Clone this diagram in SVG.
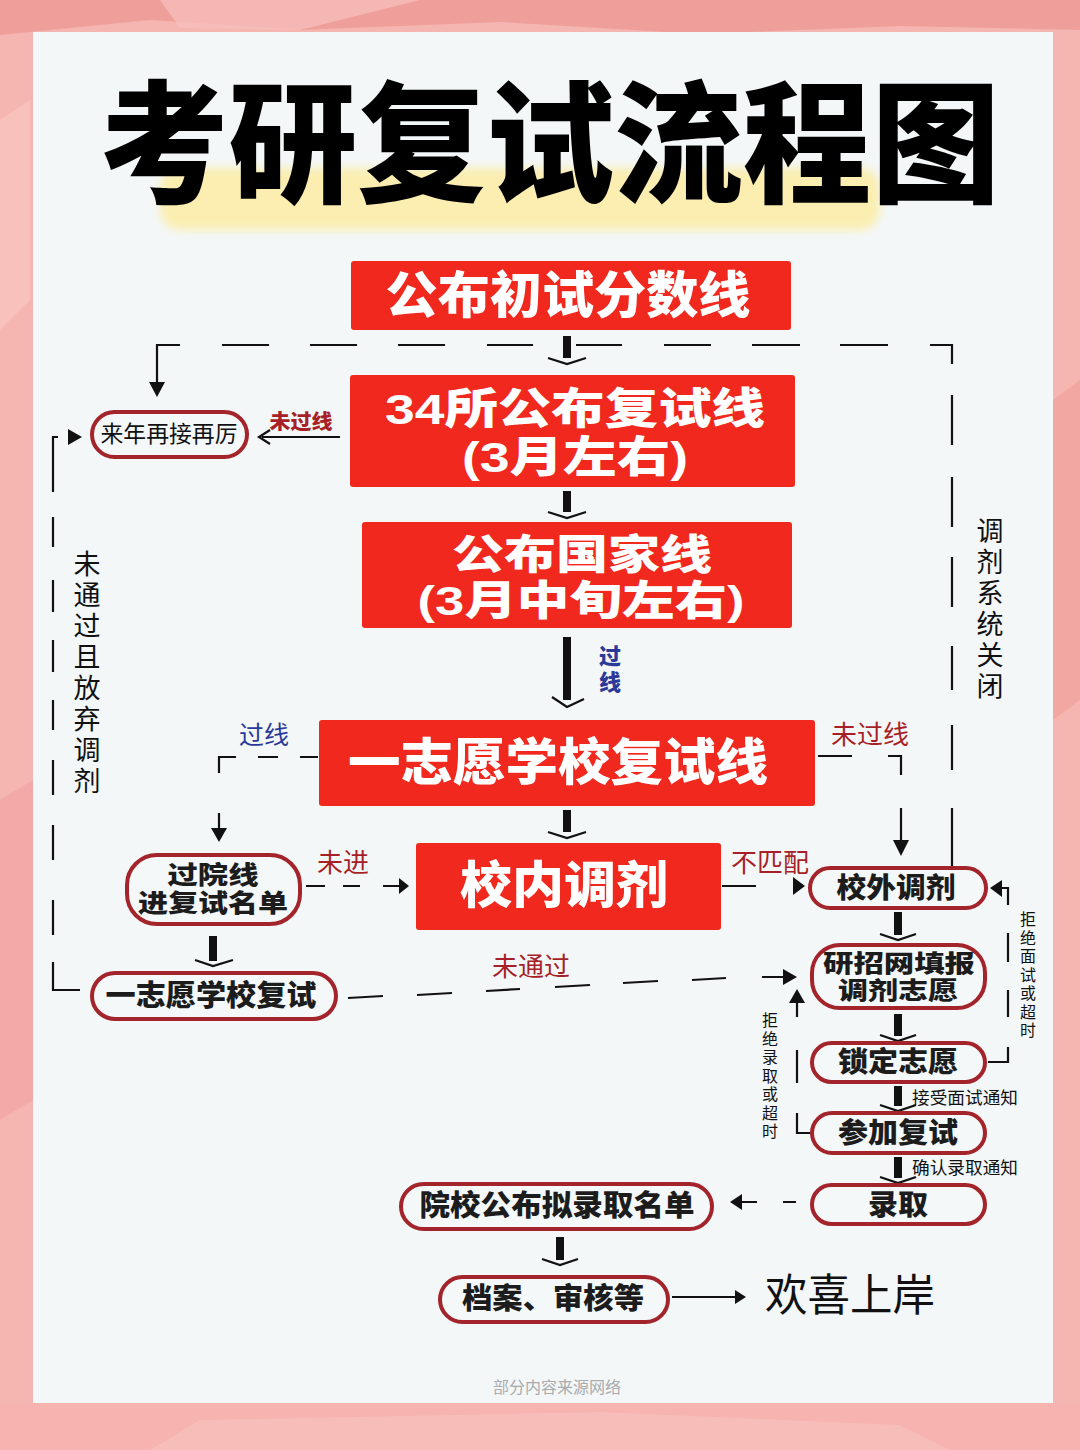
<svg xmlns="http://www.w3.org/2000/svg" width="1080" height="1450" viewBox="0 0 1080 1450">
<defs>
<style>
.hv{font-family:"Liberation Sans","Noto Sans CJK SC",sans-serif;font-weight:900}
.nm{font-family:"Liberation Sans","Noto Sans CJK SC",sans-serif;font-weight:400}
.wt{fill:#ffffff}
.bk{fill:#1c1c1c}
.red{fill:#f0281d}
.node{fill:#f4f8f9;stroke:#a3242a;stroke-width:4}
.lbr{fill:#a71f27}
.lbb{fill:#2b3a98}
.ln{fill:none;stroke:#111;stroke-width:2.2}
.bar{fill:none;stroke:#111;stroke-width:8}
.chev{fill:none;stroke:#111;stroke-width:2.2}
.tri{fill:#111}
</style>
<filter id="soft" x="-10%" y="-50%" width="120%" height="200%"><feGaussianBlur stdDeviation="5"/></filter>
</defs>

<!-- background -->
<rect x="0" y="0" width="1080" height="1450" fill="#f5b5b0"/>
<path d="M0 0 H1080 V30 L900 26 L700 34 L500 22 L300 30 L150 20 L0 35 Z" fill="#ef9f9a"/>
<path d="M160 0 L420 0 L300 30 L180 28 Z" fill="#f8c2be" opacity="0.7"/>
<path d="M0 120 L30 100 L30 300 L0 330 Z" fill="#f9c6c2" opacity="0.7"/>
<path d="M1053 400 L1080 380 L1080 700 L1053 720 Z" fill="#f09f9b" opacity="0.6"/>
<path d="M0 800 L33 780 L33 1100 L0 1120 Z" fill="#f29f9b" opacity="0.5"/>
<path d="M0 1403 H1080 V1450 H0 Z" fill="#f6b3af"/>
<path d="M200 1420 L600 1412 L900 1425 L950 1450 L150 1450 Z" fill="#f9c3bf" opacity="0.6"/>
<rect x="33" y="32" width="1020" height="1371" fill="#f3f7f8"/>

<!-- title -->
<g id="title">
<rect x="160" y="168" width="720" height="62" rx="20" fill="#fbeeb0" filter="url(#soft)"/>
<text class="hv" x="550" y="146" font-size="132" dominant-baseline="central" text-anchor="middle" textLength="900" lengthAdjust="spacingAndGlyphs" fill="#000">考研复试流程图</text>
</g>

<!-- connectors -->
<g id="connectors">
<path class="bar" d="M567 336 V358"/><path class="chev" d="M548 358 L567 364 L586 358"/>
<path class="bar" d="M567 491 V512"/><path class="chev" d="M548 512 L567 518 L586 512"/>
<path class="bar" d="M567 637 V700"/><path class="chev" d="M552 697 L567 707 L584 699"/>
<path class="bar" d="M567 810 V832"/><path class="chev" d="M548 832 L567 838 L586 832"/>
<path class="bar" d="M213 936 V961"/><path class="chev" d="M195 960 L213 966 L233 960"/>
<path class="bar" d="M898 912 V935"/><path class="chev" d="M880 934 L898 940 L916 934"/>
<path class="bar" d="M898 1014 V1036"/><path class="chev" d="M880 1035 L898 1041 L916 1035"/>
<path class="bar" d="M898 1086 V1106"/><path class="chev" d="M880 1105 L898 1111 L916 1105"/>
<path class="bar" d="M898 1157 V1178"/><path class="chev" d="M880 1177 L898 1183 L916 1177"/>
<path class="bar" d="M560 1237 V1260"/><path class="chev" d="M542 1259 L560 1265 L578 1259"/>

<path class="ln" d="M952 866 V808 M952 770 V725 M952 690 V646 M952 607 V557 M952 527 V477 M952 445 V395 M952 364 V345 H930"/>
<path class="ln" d="M888 345 H840 M800 345 H752 M711 345 H664 M622 345 H576 M533 345 H487 M445 345 H398 M357 345 H310 M269 345 H222"/>
<path class="ln" d="M180 345 H157 V384"/>
<polygon class="tri" points="149,382 165,382 157,397"/>

<path class="ln" d="M340 437 H262"/>
<path class="ln" d="M270 430 L259 437 L270 444"/>

<path class="ln" d="M80 990 H53 V962 M53 935 V900 M53 860 V825 M53 795 V760 M53 730 V700 M53 672 V640 M53 612 V580 M53 547 V517 M53 492 V462 V437 H58"/>
<polygon class="tri" points="68,429 68,445 82,437"/>

<path class="ln" d="M318 757 H300 M278 757 H258 M236 757 H219 V773"/>
<path class="ln" d="M219 813 V830"/>
<polygon class="tri" points="211,828 227,828 219,842"/>

<path class="ln" d="M818 756 H852 M888 756 H901 V775"/>
<path class="ln" d="M901 808 V841"/>
<polygon class="tri" points="893,840 909,840 901,856"/>

<path class="ln" d="M306 886 H325 M343 886 H360 M383 886 H401"/>
<polygon class="tri" points="399,878 399,894 409,886"/>

<path class="ln" d="M722 886 H756"/>
<polygon class="tri" points="793,877 793,895 805,886"/>

<path class="ln" d="M348 998 L383 996 M417 995 L452 993 M486 991 L520 989 M555 987 L590 985 M623 983 L658 981 M692 980 L726 978 M762 977 L786 977"/>
<polygon class="tri" points="783,969 783,985 797,977"/>

<path class="ln" d="M812 1133 H797 V1113 M797 1083 V1050"/>
<path class="ln" d="M797 1017 V1000"/>
<polygon class="tri" points="789,1003 805,1003 797,989"/>

<path class="ln" d="M988 1062 H1008 V1047 M1008 1017 V990 M1008 962 V933 M1008 905 V888 H1000"/>
<polygon class="tri" points="1002,880 1002,897 990,888"/>

<path class="ln" d="M796 1202 H783 M757 1202 H740"/>
<polygon class="tri" points="742,1194 742,1210 730,1202"/>

<path class="ln" d="M672 1297 H737"/>
<polygon class="tri" points="735,1290 735,1304 746,1297"/>
</g>

<!-- red boxes -->
<g id="n1"><rect class="red" x="351" y="261" width="440" height="69" rx="3"/>
<text class="hv wt" x="568" y="296" font-size="50" dominant-baseline="central" text-anchor="middle" textLength="365" lengthAdjust="spacingAndGlyphs">公布初试分数线</text></g>

<g id="n2"><rect class="red" x="350" y="375" width="445" height="112" rx="3"/>
<text class="hv wt" x="575" y="409" font-size="43" dominant-baseline="central" text-anchor="middle" textLength="380" lengthAdjust="spacingAndGlyphs">34所公布复试线</text>
<text class="hv wt" x="575" y="457" font-size="43" dominant-baseline="central" text-anchor="middle" textLength="226" lengthAdjust="spacingAndGlyphs">(3月左右)</text></g>

<g id="n3"><rect class="red" x="362" y="522" width="430" height="106" rx="3"/>
<text class="hv wt" x="582" y="555" font-size="41" dominant-baseline="central" text-anchor="middle" textLength="260" lengthAdjust="spacingAndGlyphs">公布国家线</text>
<text class="hv wt" x="581" y="601" font-size="41" dominant-baseline="central" text-anchor="middle" textLength="327" lengthAdjust="spacingAndGlyphs">(3月中旬左右)</text></g>

<g id="n4"><rect class="red" x="319" y="720" width="496" height="86" rx="3"/>
<text class="hv wt" x="558" y="763" font-size="50" dominant-baseline="central" text-anchor="middle" textLength="420" lengthAdjust="spacingAndGlyphs">一志愿学校复试线</text></g>

<g id="n5"><rect class="red" x="416" y="843" width="305" height="87" rx="3"/>
<text class="hv wt" x="564" y="886" font-size="50" dominant-baseline="central" text-anchor="middle" textLength="208" lengthAdjust="spacingAndGlyphs">校内调剂</text></g>

<!-- rounded nodes -->
<g id="n6"><rect class="node" x="92" y="412" width="155" height="45" rx="22.5"/>
<text class="nm" x="169" y="434" font-size="23" dominant-baseline="central" text-anchor="middle" fill="#111" textLength="137" lengthAdjust="spacingAndGlyphs">来年再接再厉</text></g>

<g id="n7"><rect class="node" x="127" y="855" width="173" height="69" rx="30"/>
<text class="hv bk" x="213" y="875" font-size="25" dominant-baseline="central" text-anchor="middle" textLength="91" lengthAdjust="spacingAndGlyphs">过院线</text>
<text class="hv bk" x="213" y="903" font-size="25" dominant-baseline="central" text-anchor="middle" textLength="150" lengthAdjust="spacingAndGlyphs">进复试名单</text></g>

<g id="n8"><rect class="node" x="92" y="973" width="244" height="46" rx="23"/>
<text class="hv bk" x="211" y="996" font-size="29" dominant-baseline="central" text-anchor="middle" textLength="211" lengthAdjust="spacingAndGlyphs">一志愿学校复试</text></g>

<g id="n9"><rect class="node" x="810" y="868" width="176" height="40" rx="20"/>
<text class="hv bk" x="896" y="888" font-size="28" dominant-baseline="central" text-anchor="middle" textLength="119" lengthAdjust="spacingAndGlyphs">校外调剂</text></g>

<g id="n10"><rect class="node" x="812" y="945" width="173" height="63" rx="28"/>
<text class="hv bk" x="899" y="963" font-size="24" dominant-baseline="central" text-anchor="middle" textLength="152" lengthAdjust="spacingAndGlyphs">研招网填报</text>
<text class="hv bk" x="898" y="990" font-size="24" dominant-baseline="central" text-anchor="middle" textLength="120" lengthAdjust="spacingAndGlyphs">调剂志愿</text></g>

<g id="n11"><rect class="node" x="812" y="1043" width="173" height="39" rx="19.5"/>
<text class="hv bk" x="898" y="1062" font-size="28" dominant-baseline="central" text-anchor="middle" textLength="120" lengthAdjust="spacingAndGlyphs">锁定志愿</text></g>

<g id="n12"><rect class="node" x="812" y="1113" width="173" height="40" rx="20"/>
<text class="hv bk" x="898" y="1133" font-size="28" dominant-baseline="central" text-anchor="middle" textLength="120" lengthAdjust="spacingAndGlyphs">参加复试</text></g>

<g id="n13"><rect class="node" x="812" y="1185" width="173" height="39" rx="19.5"/>
<text class="hv bk" x="898" y="1205" font-size="28" dominant-baseline="central" text-anchor="middle" textLength="60" lengthAdjust="spacingAndGlyphs">录取</text></g>

<g id="n14"><rect class="node" x="401" y="1184" width="311" height="45" rx="22.5"/>
<text class="hv bk" x="557" y="1206" font-size="29" dominant-baseline="central" text-anchor="middle" textLength="275" lengthAdjust="spacingAndGlyphs">院校公布拟录取名单</text></g>

<g id="n15"><rect class="node" x="440" y="1277" width="228" height="45" rx="22.5"/>
<text class="hv bk" x="553" y="1299" font-size="29" dominant-baseline="central" text-anchor="middle" textLength="182" lengthAdjust="spacingAndGlyphs">档案、审核等</text></g>

<g id="n16"><text class="nm" x="850" y="1295" font-size="44" dominant-baseline="central" text-anchor="middle" fill="#111" textLength="170" lengthAdjust="spacingAndGlyphs">欢喜上岸</text></g>

<!-- labels -->
<g id="labels">
<text class="hv lbr" x="301" y="422" font-size="20" dominant-baseline="central" text-anchor="middle" textLength="63" lengthAdjust="spacingAndGlyphs">未过线</text>
<text class="hv lbb" x="610" y="656" font-size="22" dominant-baseline="central" text-anchor="middle">过</text>
<text class="hv lbb" x="610" y="682" font-size="22" dominant-baseline="central" text-anchor="middle">线</text>
<text class="nm lbb" x="264" y="735" font-size="25" dominant-baseline="central" text-anchor="middle">过线</text>
<text class="nm lbr" x="870" y="735" font-size="26" dominant-baseline="central" text-anchor="middle">未过线</text>
<text class="nm lbr" x="343" y="863" font-size="26" dominant-baseline="central" text-anchor="middle">未进</text>
<text class="nm lbr" x="770" y="863" font-size="26" dominant-baseline="central" text-anchor="middle">不匹配</text>
<text class="nm lbr" x="531" y="967" font-size="26" dominant-baseline="central" text-anchor="middle">未通过</text>
<text class="nm" x="87" y="565" font-size="27" text-anchor="middle" dominant-baseline="central" fill="#111"><tspan x="87">未</tspan><tspan x="87" dy="31">通</tspan><tspan x="87" dy="31">过</tspan><tspan x="87" dy="31">且</tspan><tspan x="87" dy="31">放</tspan><tspan x="87" dy="31">弃</tspan><tspan x="87" dy="31">调</tspan><tspan x="87" dy="31">剂</tspan></text>
<text class="nm" x="990" y="532" font-size="27" text-anchor="middle" dominant-baseline="central" fill="#111"><tspan x="990">调</tspan><tspan x="990" dy="31">剂</tspan><tspan x="990" dy="31">系</tspan><tspan x="990" dy="31">统</tspan><tspan x="990" dy="31">关</tspan><tspan x="990" dy="31">闭</tspan></text>
<text class="nm" x="1028" y="919" font-size="16" text-anchor="middle" dominant-baseline="central" fill="#111"><tspan x="1028">拒</tspan><tspan x="1028" dy="18.5">绝</tspan><tspan x="1028" dy="18.5">面</tspan><tspan x="1028" dy="18.5">试</tspan><tspan x="1028" dy="18.5">或</tspan><tspan x="1028" dy="18.5">超</tspan><tspan x="1028" dy="18.5">时</tspan></text>
<text class="nm" x="770" y="1020" font-size="16" text-anchor="middle" dominant-baseline="central" fill="#111"><tspan x="770">拒</tspan><tspan x="770" dy="18.5">绝</tspan><tspan x="770" dy="18.5">录</tspan><tspan x="770" dy="18.5">取</tspan><tspan x="770" dy="18.5">或</tspan><tspan x="770" dy="18.5">超</tspan><tspan x="770" dy="18.5">时</tspan></text>
<text class="nm" x="912" y="1098" font-size="17" dominant-baseline="central" fill="#111" textLength="106" lengthAdjust="spacingAndGlyphs">接受面试通知</text>
<text class="nm" x="912" y="1168" font-size="17" dominant-baseline="central" fill="#111" textLength="106" lengthAdjust="spacingAndGlyphs">确认录取通知</text>
<text class="nm" x="557" y="1387" font-size="16" dominant-baseline="central" text-anchor="middle" fill="#a9abad">部分内容来源网络</text>
</g>
</svg>
